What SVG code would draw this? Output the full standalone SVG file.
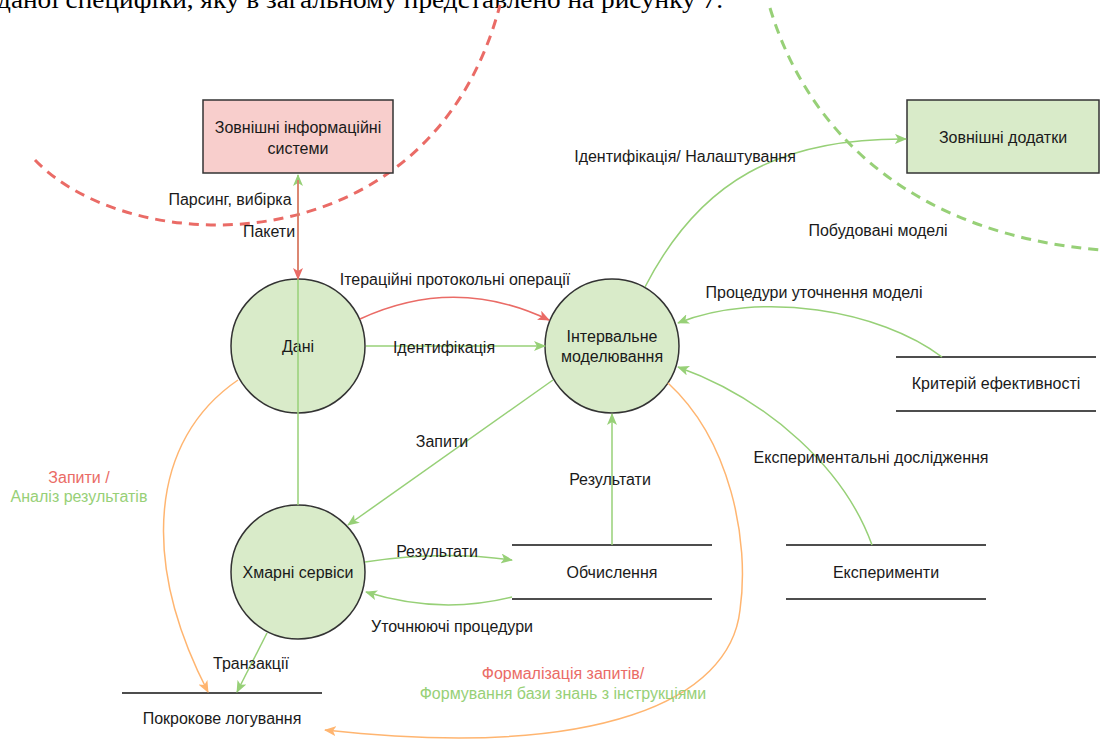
<svg xmlns="http://www.w3.org/2000/svg" width="1101" height="744" viewBox="0 0 1101 744">
<style>
  .t { font-family: "Liberation Sans", Arial, sans-serif; font-size: 16px; fill: #1a1a1a; text-anchor: middle; }
  .tr { fill: #ea6b66; }
  .tg { fill: #97d077; }
  .box { stroke: #333; stroke-width: 1.5; }
  .circ { fill: #d9ebc9; stroke: #333; stroke-width: 1.5; }
  .store { stroke: #4d4d4d; stroke-width: 2; fill: none; }
  .cg { stroke: #97d077; stroke-width: 1.5; fill: none; }
  .cr { stroke: #ea6b66; stroke-width: 1.5; fill: none; }
  .co { stroke: #ffb570; stroke-width: 1.5; fill: none; }
  .dash { stroke-width: 3; fill: none; stroke-dasharray: 10 7; }
  .page { font-family: "Liberation Serif", "Times New Roman", serif; font-size: 26px; fill: #000; }
</style>
<defs>
  <marker id="ag" viewBox="0 0 12 10" refX="11" refY="5" markerWidth="12" markerHeight="10" markerUnits="userSpaceOnUse" orient="auto">
    <path d="M0,0 L12,5 L0,10 L3,5 z" fill="#97d077"/>
  </marker>
  <marker id="ar" viewBox="0 0 12 10" refX="11" refY="5" markerWidth="12" markerHeight="10" markerUnits="userSpaceOnUse" orient="auto">
    <path d="M0,0 L12,5 L0,10 L3,5 z" fill="#ea6b66"/>
  </marker>
  <marker id="ao" viewBox="0 0 12 10" refX="11" refY="5" markerWidth="12" markerHeight="10" markerUnits="userSpaceOnUse" orient="auto">
    <path d="M0,0 L12,5 L0,10 L3,5 z" fill="#ffb570"/>
  </marker>
</defs>
<rect width="1101" height="744" fill="#fff"/>
<text class="page" x="-3" y="7.5" textLength="726" lengthAdjust="spacingAndGlyphs">даної специфіки, яку в загальному представлено на рисунку 7.</text>

<g id="boundaries">
  <path class="dash" stroke="#ea6b66" d="M35,160 C130,260 430,270 500,5"/>
  <path class="dash" stroke="#97d077" d="M770,8 C810,140 920,235 1101,250"/>
</g>

<g id="node-ext-info">
  <rect class="box" x="203" y="100" width="190" height="73" fill="#f8cecc"/>
  <text class="t" x="298" y="133">Зовнішні інформаційні</text>
  <text class="t" x="298" y="154">системи</text>
</g>
<g id="node-ext-apps">
  <rect class="box" x="907" y="100" width="192" height="73" fill="#d9ebc9"/>
  <text class="t" x="1003" y="143">Зовнішні додатки</text>
</g>
<g id="node-dani">
  <circle class="circ" cx="298" cy="346" r="67"/>
  <text class="t" x="298" y="352">Дані</text>
</g>
<g id="node-interval">
  <circle class="circ" cx="612" cy="346" r="67"/>
  <text class="t" x="612" y="342">Інтервальне</text>
  <text class="t" x="612" y="362">моделювання</text>
</g>
<g id="node-cloud">
  <circle class="circ" cx="298" cy="572" r="67"/>
  <text class="t" x="298" y="578">Хмарні сервіси</text>
</g>
<g id="store-criterion">
  <line class="store" x1="896" y1="357" x2="1096" y2="357"/>
  <line class="store" x1="896" y1="411" x2="1096" y2="411"/>
  <text class="t" x="996" y="389">Критерій ефективності</text>
</g>
<g id="store-compute">
  <line class="store" x1="512" y1="545" x2="712" y2="545"/>
  <line class="store" x1="512" y1="599" x2="712" y2="599"/>
  <text class="t" x="612" y="578">Обчислення</text>
</g>
<g id="store-experiments">
  <line class="store" x1="786" y1="545" x2="986" y2="545"/>
  <line class="store" x1="786" y1="599" x2="986" y2="599"/>
  <text class="t" x="886" y="578">Експерименти</text>
</g>
<g id="store-log">
  <line class="store" x1="122" y1="693" x2="322" y2="693"/>
  <line class="store" x1="122" y1="747" x2="322" y2="747"/>
  <text class="t" x="222" y="724">Покрокове логування</text>
</g>

<g id="connectors">
  <path class="cg" d="M298,505 L298,175" marker-end="url(#ag)"/>
  <path class="cr" d="M298,180 L298,279" marker-end="url(#ar)"/>
  <path class="cr" d="M360,319 Q455,275 549,320" marker-end="url(#ar)"/>
  <path class="cg" d="M366,346 L545,346" marker-end="url(#ag)"/>
  <path class="cg" d="M645,287 C700,180 780,138 906,139" marker-end="url(#ag)"/>
  <path class="cg" d="M942,357 C880,310 760,290 678,323" marker-end="url(#ag)"/>
  <path class="cg" d="M872,545 C845,470 770,400 678,367" marker-end="url(#ag)"/>
  <path class="cg" d="M553,380 L348,525" marker-end="url(#ag)"/>
  <path class="cg" d="M612,545 L612,414" marker-end="url(#ag)"/>
  <path class="cg" d="M365,562 Q440,550 512,560" marker-end="url(#ag)"/>
  <path class="cg" d="M512,597 Q440,615 366,592" marker-end="url(#ag)"/>
  <path class="cg" d="M267,633 L237,692" marker-end="url(#ag)"/>
  <path class="co" d="M238,380 C150,440 140,560 208,692" marker-end="url(#ao)"/>
  <path class="co" d="M668,383 C730,440 750,540 740,610 C730,700 600,760 325,730" marker-end="url(#ao)"/>

  <text class="t" x="230" y="205">Парсинг, вибірка</text>
  <text class="t" x="269" y="237">Пакети</text>
  <text class="t" x="455" y="285">Ітераційні протокольні операції</text>
  <text class="t" x="444" y="353">Ідентифікація</text>
  <text class="t" x="685" y="162">Ідентифікація/ Налаштування</text>
  <text class="t" x="878" y="236">Побудовані моделі</text>
  <text class="t" x="814" y="298">Процедури уточнення моделі</text>
  <text class="t" x="871" y="463">Експериментальні дослідження</text>
  <text class="t" x="442" y="447">Запити</text>
  <text class="t" x="610" y="485">Результати</text>
  <text class="t" x="437" y="557">Результати</text>
  <text class="t" x="452" y="632">Уточнюючі процедури</text>
  <text class="t" x="251" y="669">Транзакції</text>
  <text class="t tr" x="79" y="483">Запити /</text>
  <text class="t tg" x="79" y="502">Аналіз результатів</text>
  <text class="t tr" x="563" y="679">Формалізація запитів/</text>
  <text class="t tg" x="563" y="699">Формування бази знань з інструкціями</text>
</g>
</svg>
